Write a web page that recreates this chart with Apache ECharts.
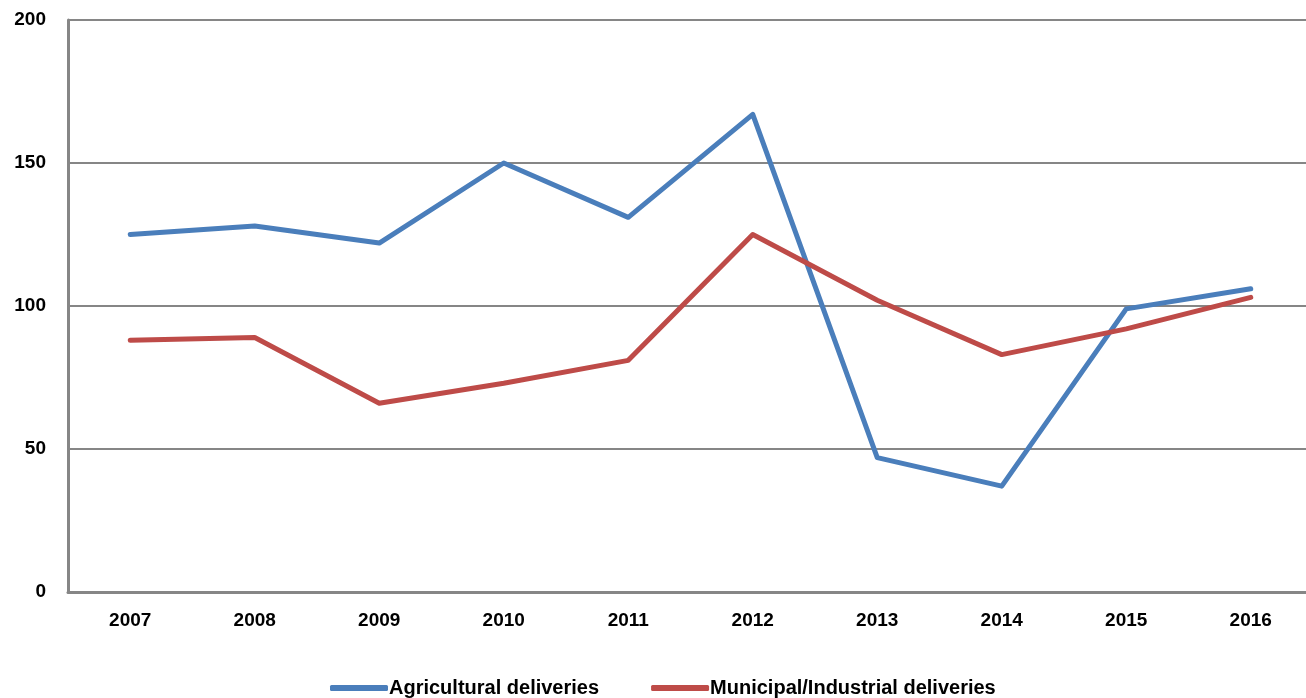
<!DOCTYPE html>
<html>
<head>
<meta charset="utf-8">
<script src="https://cdn.jsdelivr.net/npm/echarts@6/dist/echarts.min.js"></script>
<style>
  html, body { margin: 0; padding: 0; background: #fff; overflow: hidden; }
  /* chart is a bit wider than the window: the plot runs past the right edge */
  #chart { width: 1320px; height: 698px; }
</style>
</head>
<body>
<div id="chart"></div>
<script>
const years = ['2007', '2008', '2009', '2010', '2011', '2012', '2013', '2014', '2015', '2016'];
const agricultural = [125, 128, 122, 150, 131, 167, 47, 37, 99, 106];
const municipal = [88, 89, 66, 73, 81, 125, 102, 83, 92, 103];
const yTicks = [0, 50, 100, 150, 200];

const myChart = echarts.init(document.getElementById('chart'));

const labelFont = {
    fontFamily: 'Liberation Sans',
    fontWeight: 'bold',
    fontSize: 19,
    color: '#000'
};

const options = {
    animation: false,
    grid: { left: 68, right: 7, top: 20, bottom: 106 },
    legend: {
        left: 325,
        top: 673,
        itemWidth: 58,
        itemHeight: 6,
        itemGap: 52,
        icon: 'roundRect',
        textStyle: {
            fontFamily: 'Liberation Sans',
            fontWeight: 'bold',
            fontSize: 20,
            color: '#000',
            padding: [0, 0, 0, -4]
        },
        data: ['Agricultural deliveries', 'Municipal/Industrial deliveries']
    },
    xAxis: {
        type: 'category',
        data: years,
        boundaryGap: true,
        axisLine: { lineStyle: { color: '#868686', width: 3 } },
        axisTick: { show: false },
        axisLabel: Object.assign({ margin: 19 }, labelFont)
    },
    yAxis: {
        type: 'value',
        min: yTicks[0],
        max: yTicks[yTicks.length - 1],
        interval: 50,
        axisLine: { show: true, lineStyle: { color: '#868686', width: 3 } },
        axisTick: { show: false },
        axisLabel: Object.assign({ margin: 22 }, labelFont),
        splitLine: { lineStyle: { color: '#868686', width: 2 } }
    },
    series: [
        {
            name: 'Agricultural deliveries',
            type: 'line',
            data: agricultural,
            symbol: 'none',
            lineStyle: { color: '#4a7ebb', width: 5, cap: 'round', join: 'round' },
            itemStyle: { color: '#4a7ebb' }
        },
        {
            name: 'Municipal/Industrial deliveries',
            type: 'line',
            data: municipal,
            symbol: 'none',
            lineStyle: { color: '#be4b48', width: 5, cap: 'round', join: 'round' },
            itemStyle: { color: '#be4b48' }
        }
    ]
};

myChart.setOption(options);
</script>
</body>
</html>
